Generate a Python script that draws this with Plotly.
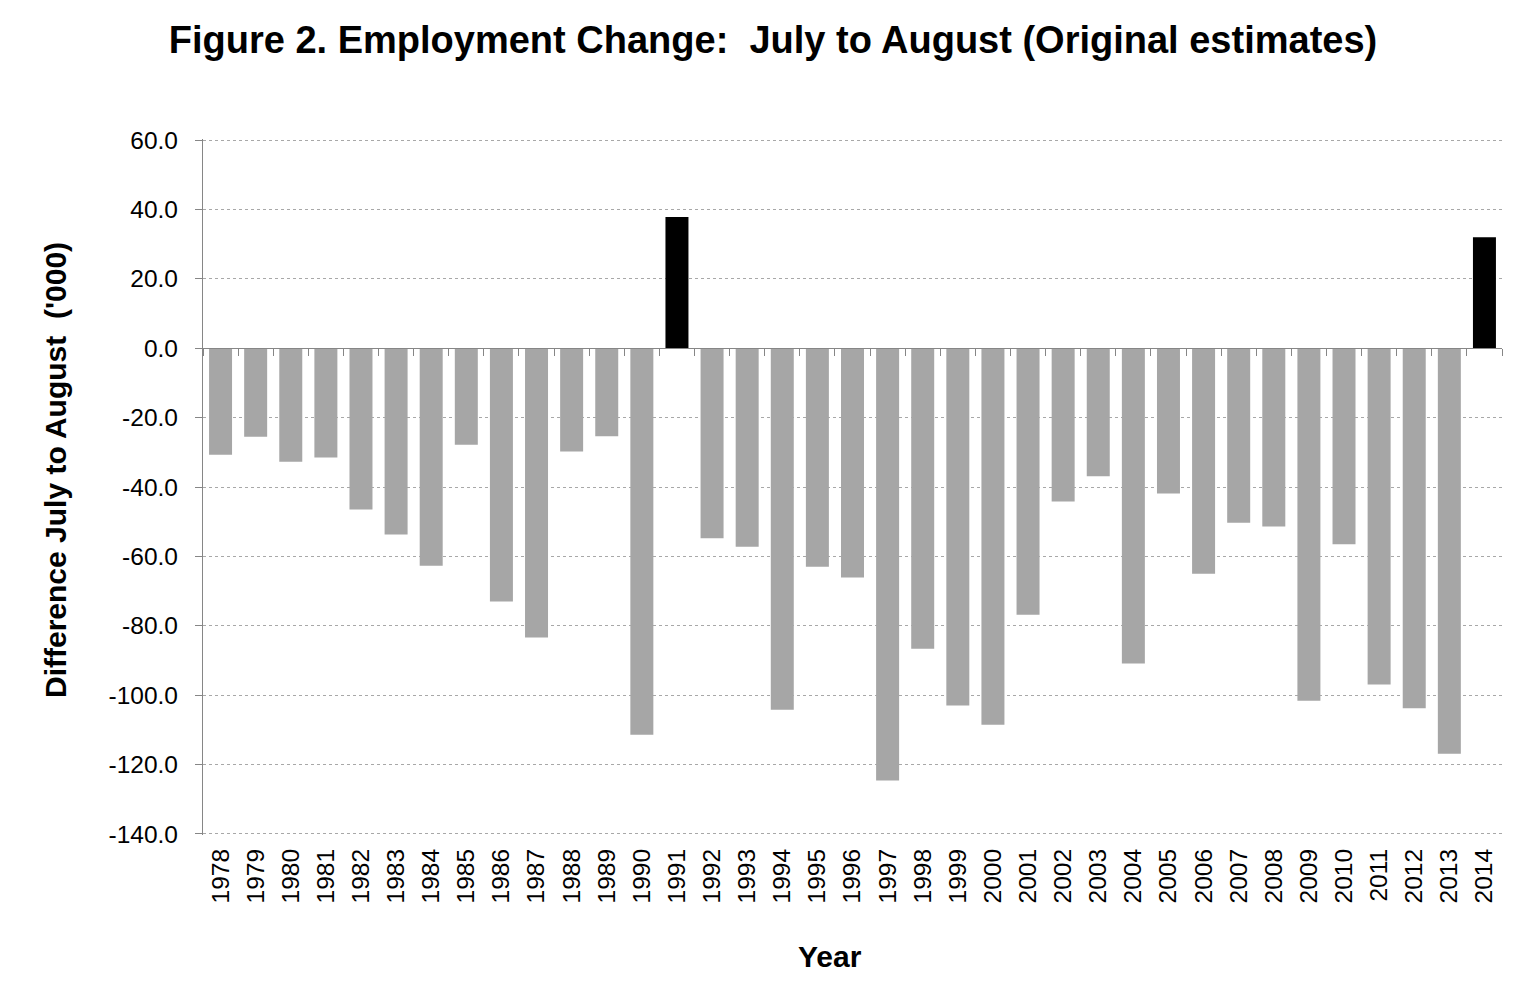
import plotly.graph_objects as go

years = [str(y) for y in range(1978, 2015)]
changes = [-30.7, -25.5, -32.7, -31.5, -46.5, -53.7, -62.7, -27.8, -73.0, -83.4,
           -29.8, -25.4, -111.4, 37.8, -54.8, -57.2, -104.2, -63.0, -66.1, -124.6,
           -86.6, -103.0, -108.5, -76.8, -44.2, -36.9, -90.9, -41.9, -65.0, -50.3,
           -51.4, -101.6, -56.5, -96.9, -103.8, -116.9, 32.0]
ytick_vals = [60, 40, 20, 0, -20, -40, -60, -80, -100, -120, -140]
ytick_text = ["60.0", "40.0", "20.0", "0.0", "-20.0", "-40.0", "-60.0", "-80.0",
              "-100.0", "-120.0", "-140.0"]

colors = ["#000000" if v > 0 else "#A6A6A6" for v in changes]

FONT = "Liberation Sans, Arial, sans-serif"

# page offset compensation (browser body margin ~8px)
OFF = 8
W, H = 1520 - OFF, 983 - OFF
PL, PR, PT, PB = 203, 1502, 140, 834  # plot area in reference pixels
PW, PH = PR - PL, PB - PT
PAD = 0.3  # small range padding so edge gridlines are drawn
YMIN, YMAX = -140 - PAD, 60 + PAD
PT2 = PT - PAD * PH / 200
PB2 = PB + PAD * PH / 200

fig = go.Figure()
fig.add_trace(go.Bar(x=years, y=changes, marker=dict(color=colors, line=dict(width=0)),
                     showlegend=False))
# dummy trace to create the zero-line axis with boundary ticks
fig.add_trace(go.Scatter(x=[], y=[], xaxis="x2", yaxis="y", showlegend=False))

fig.update_layout(
    width=W, height=H,
    paper_bgcolor="white", plot_bgcolor="white",
    margin=dict(l=PL - OFF, r=1520 - PR, t=PT2 - OFF, b=983 - PB2),
    bargap=0.345,
    font=dict(family=FONT, color="black"),
    title=dict(text="<b>Figure 2. Employment Change:  July to August (Original estimates)</b>",
               x=(773 - OFF) / W, xanchor="center", xref="container",
               y=1 - (40 - OFF) / H, yanchor="middle", yref="container",
               font=dict(size=38, family=FONT, color="black")),
    xaxis=dict(type="category", showline=False, ticks="", showgrid=False,
               tickangle=-90, tickfont=dict(size=24.5, color="black"),
               range=[-0.5, 36.5], ticklabelstandoff=8),
    xaxis2=dict(overlaying="x", anchor="free", position=(0 - YMIN) / (YMAX - YMIN),
                range=[-0.5, 36.5],
                showline=True, linecolor="#868686", linewidth=1.3,
                ticks="outside", ticklen=7, tickcolor="#868686", tickwidth=1,
                tick0=-0.5, dtick=1, showticklabels=False, showgrid=False,
                zeroline=False),
    yaxis=dict(range=[YMIN, YMAX], tickvals=ytick_vals, ticktext=ytick_text,
               showline=True, linecolor="#868686", linewidth=1.3,
               ticks="outside", ticklen=7, tickcolor="#868686",
               showgrid=True, gridcolor="#A8A8A8", gridwidth=1, griddash="dot",
               zeroline=False, tickfont=dict(size=24.5, color="black"),
               ticklabelstandoff=12),
)

fig.add_annotation(text="<b>Difference July to August  ('000)</b>", textangle=-90,
                   xref="paper", yref="paper", x=(55 - PL) / PW, y=(PB2 - 470) / (PB2 - PT2),
                   xanchor="center", yanchor="middle", showarrow=False,
                   font=dict(size=30, family=FONT, color="black"))
fig.add_annotation(text="<b>Year</b>",
                   xref="paper", yref="paper", x=(830 - PL) / PW, y=(PB2 - 957) / (PB2 - PT2),
                   xanchor="center", yanchor="middle", showarrow=False,
                   font=dict(size=30, family=FONT, color="black"))

fig.write_html("out.html")
